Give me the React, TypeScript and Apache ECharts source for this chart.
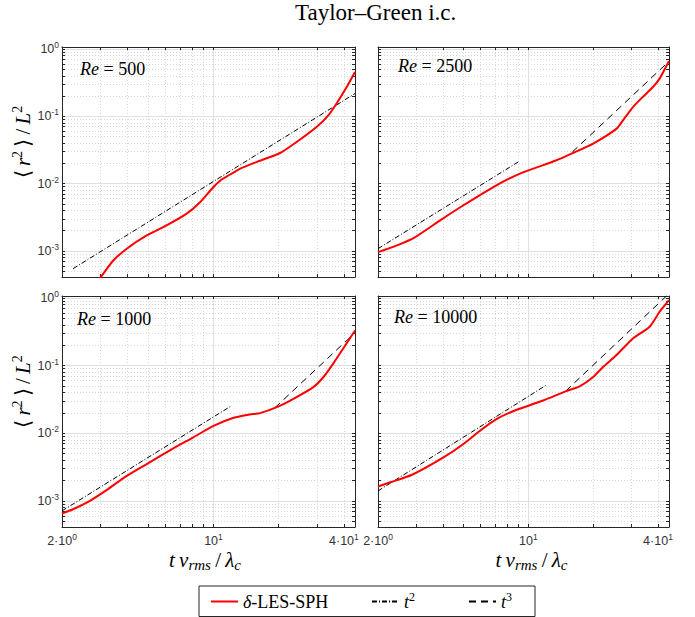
import React, { useEffect, useRef } from 'react';
import * as echarts from 'echarts';

// ---- axis ranges and ticks ----
const X_MIN = 2;
const X_MAX = 45;
const Y_MIN = 4.1e-4;
const Y_MAX = 1.07;
const xMajorTicks = [10];
const xLabelTicks = [2, 10, 40];
const xMinorTicks = [3, 4, 5, 6, 7, 8, 9, 20, 30, 40];
const yMajorTicks = [1e-3, 1e-2, 1e-1, 1];
const yMinorTicks = [
  5e-4, 6e-4, 7e-4, 8e-4, 9e-4,
  2e-3, 3e-3, 4e-3, 5e-3, 6e-3, 7e-3, 8e-3, 9e-3,
  2e-2, 3e-2, 4e-2, 5e-2, 6e-2, 7e-2, 8e-2, 9e-2,
  0.2, 0.3, 0.4, 0.5, 0.6, 0.7, 0.8, 0.9,
];

// ---- panel annotations ----
const reLabels = ['500', '2500', '1000', '10000'];

// ---- δ-LES-SPH curves (t v_rms/λc , <r²>/L²) ----
const xRe500 = [2.9, 3.02, 3.45, 3.98, 4.92, 6.08, 7.52, 8.67, 10, 10.9, 11.5, 13.3, 15.8, 20.3, 24.2, 29.9, 33.9, 37.0, 41.2, 45];
const yRe500 = [3.46e-4, 4.1e-4, 7.2e-4, 1.08e-3, 1.7e-3, 2.4e-3, 3.58e-3, 5.3e-3, 8.9e-3, 0.0115, 0.0127, 0.0167, 0.0209, 0.0285, 0.0415, 0.0693, 0.1035, 0.155, 0.272, 0.455];

const xRe2500 = [2.0, 2.45, 2.98, 3.89, 4.99, 6.87, 9.14, 13.5, 16.1, 20.0, 25.7, 27.5, 30.6, 34.0, 37.9, 40.7, 44.5, 45];
const yRe2500 = [9.6e-4, 1.21e-3, 1.61e-3, 2.85e-3, 4.77e-3, 8.9e-3, 0.0141, 0.0222, 0.0285, 0.0393, 0.0656, 0.087, 0.137, 0.194, 0.272, 0.363, 0.62, 0.66];

const xRe1000 = [2.0, 2.25, 2.69, 3.21, 3.98, 4.92, 6.53, 8.08, 10, 12.4, 14.7, 16.4, 19.6, 23.4, 28.9, 32.2, 35.7, 39.7, 45];
const yRe1000 = [6.5e-4, 7.5e-4, 1.0e-3, 1.44e-3, 2.34e-3, 3.5e-3, 5.97e-3, 8.7e-3, 0.0128, 0.0169, 0.0189, 0.0198, 0.0243, 0.0323, 0.0481, 0.0678, 0.107, 0.179, 0.33];

const xRe10000 = [2.0, 2.32, 2.88, 4.03, 4.99, 5.96, 7.13, 8.82, 11.7, 15.0, 17.3, 20.0, 22.2, 25.6, 30.6, 36.6, 40.7, 45];
const yRe10000 = [1.63e-3, 1.91e-3, 2.43e-3, 4.39e-3, 6.93e-3, 0.0109, 0.0163, 0.0222, 0.0305, 0.042, 0.0493, 0.0678, 0.0953, 0.142, 0.252, 0.375, 0.625, 0.93];

// ---- reference slopes: [start, end] ----
const t2xRe500 = [2.25, 45];
const t2yRe500 = [5.45e-4, 0.218];
const t2xRe2500 = [2.0, 9.08];
const t2yRe2500 = [1.08e-3, 0.0215];
const t3xRe2500 = [16.0, 44.5];
const t3yRe2500 = [0.0295, 0.634];
const t2xRe1000 = [2.0, 12.0];
const t2yRe1000 = [7.1e-4, 0.025];
const t3xRe1000 = [19.2, 44.7];
const t3yRe1000 = [0.0238, 0.3];
const t2xRe10000 = [2.0, 12.05];
const t2yRe10000 = [1.4e-3, 0.051];
const t3xRe10000 = [14.9, 43.8];
const t3yRe10000 = [0.042, 1.07];

const SANS = '"Liberation Sans", Arial, Helvetica, sans-serif';
const SERIF = '"Liberation Serif", "Times New Roman", serif';
const AXIS = '#262626';
const RED = '#ff0000';

const L = (v: number) => Math.log10(v);
const pts = (xs: number[], ys: number[]) => xs.map((x, i) => [L(x), L(ys[i])]);

const grids = [
  { left: 62, top: 47, width: 293, height: 230 },
  { left: 378, top: 47, width: 291, height: 230 },
  { left: 62, top: 296, width: 293, height: 231 },
  { left: 378, top: 296, width: 291, height: 231 },
];

const panels = [
  { red: [xRe500, yRe500], t2: [t2xRe500, t2yRe500], t3: null as null | number[][] },
  { red: [xRe2500, yRe2500], t2: [t2xRe2500, t2yRe2500], t3: [t3xRe2500, t3yRe2500] },
  { red: [xRe1000, yRe1000], t2: [t2xRe1000, t2yRe1000], t3: [t3xRe1000, t3yRe1000] },
  { red: [xRe10000, yRe10000], t2: [t2xRe10000, t2yRe10000], t3: [t3xRe10000, t3yRe10000] },
];

const annotPos = [
  { left: 80, top: 60 },
  { left: 398, top: 57 },
  { left: 77, top: 310 },
  { left: 394, top: 308 },
];

const tickRich = {
  b: { fontFamily: SANS, fontSize: 12.5, color: '#333', lineHeight: 16 },
  s: { fontFamily: SANS, fontSize: 8.5, color: '#333', padding: [0, 0, 8, 0] },
};

const xLabelFmt = (v: number) => {
  const x = Math.pow(10, v);
  if (Math.abs(x - 2) < 0.01) return '{b|2·10}{s|0}';
  if (Math.abs(x - 10) < 0.01) return '{b|10}{s|1}';
  if (Math.abs(x - 40) < 0.05) return '{b|4·10}{s|1}';
  return '';
};
const yLabelFmt = (v: number) => `{b|10}{s|${Math.round(v)}}`;

const THIN = '\u2009';

export default function App() {
  const ref = useRef<HTMLDivElement>(null);
  useEffect(() => {
    const chart = echarts.init(ref.current!, null, { renderer: 'svg' });
    const xAxes: any[] = [];
    const yAxes: any[] = [];
    const series: any[] = [];
    const gridLine = { color: '#e0e0e0', width: 1 };
    const minorLine = { color: '#d8d8d8', width: 1, type: [1, 2] };

    grids.forEach((g, i) => {
      const bottomRow = i >= 2;
      const leftCol = i % 2 === 0;
      const xmin = L(X_MIN), xmax = L(X_MAX), ymin = L(Y_MIN), ymax = L(Y_MAX);
      // x main (bottom)
      xAxes.push({
        type: 'value', gridIndex: i, position: 'bottom', min: xmin, max: xmax,
        axisLine: { show: true, onZero: false, lineStyle: { color: AXIS, width: 1 } },
        axisTick: { show: true, inside: true, length: 3, customValues: xMajorTicks.map(L), lineStyle: { color: AXIS } },
        axisLabel: { show: bottomRow, customValues: xLabelTicks.map(L), formatter: xLabelFmt, margin: 5, rich: tickRich },
        splitLine: { show: true, lineStyle: gridLine },
        name: bottomRow ? `{i|t}${THIN}{i|v}{sub|rms}${THIN}/${THIN}{i|λ}{sub|c}` : '',
        nameLocation: 'middle', nameGap: 21,
        nameTextStyle: {
          fontFamily: SERIF, fontSize: 21, color: '#000',
          padding: leftCol ? [0, 7, 0, 0] : [0, 0, 0, 16],
          rich: {
            i: { fontFamily: SERIF, fontSize: 21, fontStyle: 'italic', color: '#000' },
            sub: { fontFamily: SERIF, fontSize: 15, fontStyle: 'italic', color: '#000', padding: [9, 0, 0, 0] },
          },
        },
      });
      // x minor (bottom)
      xAxes.push({
        type: 'value', gridIndex: i, position: 'bottom', min: xmin, max: xmax,
        axisLine: { show: false, onZero: false },
        axisTick: { show: true, inside: true, length: 3, customValues: xMinorTicks.map(L), lineStyle: { color: AXIS } },
        axisLabel: { show: false },
        splitLine: { show: true, lineStyle: minorLine },
      });
      // x top (box)
      xAxes.push({
        type: 'value', gridIndex: i, position: 'top', min: xmin, max: xmax,
        axisLine: { show: true, onZero: false, lineStyle: { color: AXIS, width: 1 } },
        axisTick: { show: true, inside: true, length: 3, customValues: [...xMajorTicks, ...xMinorTicks].map(L), lineStyle: { color: AXIS } },
        axisLabel: { show: false },
        splitLine: { show: false },
      });
      // y main (left)
      yAxes.push({
        type: 'value', gridIndex: i, position: 'left', min: ymin, max: ymax,
        axisLine: { show: true, onZero: false, lineStyle: { color: AXIS, width: 1 } },
        axisTick: { show: true, inside: true, length: 3, customValues: yMajorTicks.map(L), lineStyle: { color: AXIS } },
        axisLabel: { show: leftCol, customValues: yMajorTicks.map(L), formatter: yLabelFmt, margin: 3, rich: tickRich },
        splitLine: { show: true, lineStyle: gridLine },
        name: leftCol ? `⟨${THIN}{i|r}{sup|2}${THIN}⟩${THIN}/${THIN}{i|L}{sup|2}` : '',
        nameLocation: 'middle', nameRotate: 90, nameGap: 25,
        nameTextStyle: {
          fontFamily: SERIF, fontSize: 21, color: '#000',
          padding: [0, 0, 0, 40],
          rich: {
            i: { fontFamily: SERIF, fontSize: 21, fontStyle: 'italic', color: '#000' },
            sup: { fontFamily: SERIF, fontSize: 14, color: '#000', padding: [0, 0, 11, 0] },
          },
        },
      });
      // y minor (left)
      yAxes.push({
        type: 'value', gridIndex: i, position: 'left', min: ymin, max: ymax,
        axisLine: { show: false, onZero: false },
        axisTick: { show: true, inside: true, length: 3, customValues: yMinorTicks.map(L), lineStyle: { color: AXIS } },
        axisLabel: { show: false },
        splitLine: { show: true, lineStyle: minorLine },
      });
      // y right (box)
      yAxes.push({
        type: 'value', gridIndex: i, position: 'right', min: ymin, max: ymax,
        axisLine: { show: true, onZero: false, lineStyle: { color: AXIS, width: 1 } },
        axisTick: { show: true, inside: true, length: 3, customValues: [...yMajorTicks, ...yMinorTicks].map(L), lineStyle: { color: AXIS } },
        axisLabel: { show: false },
        splitLine: { show: false },
      });

      const p = panels[i];
      const ax = { xAxisIndex: i * 3, yAxisIndex: i * 3 };
      series.push({
        type: 'line', name: 't2', ...ax, data: pts(p.t2[0], p.t2[1]), symbol: 'none', clip: true,
        lineStyle: { color: '#000', width: 1, type: [5, 2, 1, 2] }, itemStyle: { color: '#000' }, z: 3,
      });
      if (p.t3) {
        series.push({
          type: 'line', name: 't3', ...ax, data: pts(p.t3[0], p.t3[1]), symbol: 'none', clip: true,
          lineStyle: { color: '#000', width: 1, type: [7, 5] }, itemStyle: { color: '#000' }, z: 3,
        });
      }
      series.push({
        type: 'line', name: 'δ-LES-SPH', ...ax, data: pts(p.red[0], p.red[1]), symbol: 'none', clip: true,
        smooth: 0.2,
        lineStyle: { color: RED, width: 2 }, itemStyle: { color: RED }, z: 4,
      });
    });

    const ordered = [
      ...series.filter((s) => s.name === 'δ-LES-SPH'),
      ...series.filter((s) => s.name === 't2'),
      ...series.filter((s) => s.name === 't3'),
    ];

    const option: any = {
      animation: false,
      backgroundColor: '#fff',
      title: [
        {
          text: 'Taylor–Green i.c.', left: 295, top: 1, padding: 0,
          textStyle: { fontFamily: SERIF, fontSize: 23, fontWeight: 'normal', color: '#000' },
        },
        ...reLabels.map((r, i) => ({
          text: `{i|Re} = ${r}`, left: annotPos[i].left, top: annotPos[i].top, padding: 0,
          textStyle: {
            fontFamily: SERIF, fontSize: 18, fontWeight: 'normal', color: '#000',
            rich: { i: { fontFamily: SERIF, fontSize: 18, fontStyle: 'italic', color: '#000' } },
          },
        })),
      ],
      grid: grids.map((g) => ({ ...g, containLabel: false })),
      xAxis: xAxes,
      yAxis: yAxes,
      legend: {
        left: 199, top: 586, orient: 'horizontal',
        padding: [5, 10, 5, 11], itemGap: 30, itemWidth: 27, itemHeight: 14,
        borderColor: '#262626', borderWidth: 1, backgroundColor: '#fff',
        selectedMode: false,
        itemStyle: { color: 'rgba(0,0,0,0)', borderWidth: 0, opacity: 0 },
        data: [
          { name: 'δ-LES-SPH', textStyle: { width: 98 } },
          { name: 't2', textStyle: { width: 34 } },
          { name: 't3', textStyle: { width: 24 } },
        ],
        formatter: (name: string) =>
          name === 't2' ? '{i|t}{s|2}' : name === 't3' ? '{i|t}{s|3}' : '{i|δ}-LES-SPH',
        textStyle: {
          fontFamily: SERIF, fontSize: 18, color: '#000', lineHeight: 20,
          rich: {
            i: { fontFamily: SERIF, fontSize: 18, fontStyle: 'italic', color: '#000' },
            s: { fontFamily: SERIF, fontSize: 12, color: '#000', padding: [0, 0, 9, 0] },
          },
        },
      },
      series: ordered,
    };
    chart.setOption(option);
    return () => chart.dispose();
  }, []);
  return (
    <div
      ref={ref}
      style={{ position: 'fixed', left: 0, top: 0, width: 695, height: 617, background: '#fff' }}
    />
  );
}
